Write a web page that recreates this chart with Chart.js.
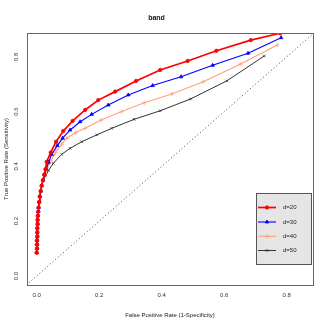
<!DOCTYPE html>
<html>
<head>
<meta charset="utf-8">
<script src="https://cdn.jsdelivr.net/npm/chart.js@4/dist/chart.umd.min.js"></script>
<style>
  html, body { margin: 0; padding: 0; background: #fff; }
  #wrap { width: 327px; height: 327px; }
</style>
</head>
<body>
<div id="wrap"><canvas id="rocChart" width="327" height="327"></canvas></div>
<script>
// ROC curves
const labels = ['d=20', 'd=30', 'd=40', 'd=50'];
const tickValues = [0, 0.2, 0.4, 0.6, 0.8];

const fpr20 = [0.000, 0.001, 0.001, 0.001, 0.002, 0.002, 0.002, 0.003, 0.003, 0.004, 0.005, 0.006, 0.008, 0.010, 0.013, 0.016, 0.020, 0.024, 0.028,
  0.032, 0.045, 0.062, 0.085, 0.115, 0.155, 0.197, 0.251, 0.318, 0.395, 0.483, 0.575, 0.685, 0.779];
const tpr20 = [0.085, 0.100, 0.115, 0.130, 0.145, 0.160, 0.175, 0.190, 0.205, 0.220, 0.235, 0.250, 0.270, 0.290, 0.310, 0.330, 0.350, 0.370, 0.390,
  0.417, 0.451, 0.490, 0.529, 0.566, 0.606, 0.642, 0.673, 0.712, 0.752, 0.785, 0.822, 0.861, 0.886];

const fpr30 = [0.000, 0.001, 0.001, 0.001, 0.002, 0.002, 0.002, 0.003, 0.003, 0.004, 0.005, 0.006, 0.008, 0.010, 0.013, 0.016, 0.020, 0.025, 0.031, 0.038,
  0.048, 0.066, 0.083, 0.107, 0.139, 0.176, 0.229, 0.293, 0.371, 0.462, 0.563, 0.676, 0.782];
const tpr30 = [0.085, 0.100, 0.115, 0.130, 0.145, 0.160, 0.175, 0.190, 0.205, 0.220, 0.235, 0.250, 0.270, 0.290, 0.310, 0.330, 0.350, 0.370, 0.390, 0.415,
  0.444, 0.476, 0.503, 0.533, 0.563, 0.590, 0.624, 0.661, 0.695, 0.727, 0.769, 0.813, 0.870];

const fpr40 = [0.000, 0.001, 0.001, 0.001, 0.002, 0.002, 0.002, 0.003, 0.003, 0.004, 0.005, 0.006, 0.008, 0.010, 0.013, 0.016, 0.020, 0.026, 0.034, 0.045, 0.060,
  0.080, 0.096, 0.125, 0.155, 0.206, 0.272, 0.344, 0.432, 0.533, 0.651, 0.770];
const tpr40 = [0.085, 0.100, 0.115, 0.130, 0.145, 0.160, 0.175, 0.190, 0.205, 0.220, 0.235, 0.250, 0.270, 0.290, 0.310, 0.330, 0.350, 0.370, 0.395, 0.420, 0.450,
  0.481, 0.503, 0.524, 0.539, 0.569, 0.600, 0.632, 0.664, 0.709, 0.773, 0.843];

const fpr50 = [0.000, 0.001, 0.001, 0.001, 0.002, 0.002, 0.002, 0.003, 0.003, 0.004, 0.005, 0.006, 0.008, 0.010, 0.013, 0.016, 0.021, 0.028, 0.038,
  0.053, 0.080, 0.107, 0.144, 0.192, 0.240, 0.312, 0.395, 0.492, 0.608, 0.728];
const tpr50 = [0.085, 0.100, 0.115, 0.130, 0.145, 0.160, 0.175, 0.190, 0.205, 0.220, 0.235, 0.250, 0.270, 0.290, 0.310, 0.330, 0.348, 0.365, 0.385,
  0.411, 0.444, 0.466, 0.490, 0.515, 0.539, 0.572, 0.603, 0.646, 0.712, 0.803];

const diagX = [-0.05, 1];
const diagY = [-0.05, 1];

function toPoints(xs, ys) {
  return xs.map((x, i) => ({ x: x, y: ys[i] }));
}

const series = [
  { label: labels[0], xs: fpr20, ys: tpr20, color: '#ff0000', width: 1.7, style: 'circle', radius: 1.7, fill: true },
  { label: labels[1], xs: fpr30, ys: tpr30, color: '#0000ff', width: 1.1, style: 'triangle', radius: 2, fill: true },
  { label: labels[2], xs: fpr40, ys: tpr40, color: '#ffa07a', width: 1.1, style: 'cross', radius: 2.2, fill: false },
  { label: labels[3], xs: fpr50, ys: tpr50, color: '#333333', width: 1, style: 'crossRot', radius: 1.8, fill: false }
];

const datasets = series.map(s => ({
  label: s.label,
  data: toPoints(s.xs, s.ys),
  borderColor: s.color,
  backgroundColor: s.fill ? s.color : 'transparent',
  borderWidth: s.width,
  pointStyle: s.style,
  pointRadius: s.radius,
  pointBorderWidth: 0.8,
  pointBorderColor: s.color,
  pointBackgroundColor: s.fill ? s.color : 'transparent',
  tension: 0
}));

// dotted chance line
datasets.push({
  label: 'chance',
  data: toPoints(diagX, diagY),
  borderColor: '#444',
  borderWidth: 1,
  borderDash: [1, 2.5],
  pointRadius: 0,
  tension: 0
});

const axisFont = { family: 'Liberation Sans, Arial, sans-serif', size: 6 };

// R-style box, rotated y tick labels and the legend
const rStyle = {
  id: 'rStyle',
  afterDraw(chart) {
    const ctx = chart.ctx;
    const a = chart.chartArea;
    ctx.save();
    ctx.strokeStyle = '#666';
    ctx.lineWidth = 1;
    ctx.strokeRect(a.left + 0.5, a.top + 0.5, a.right - a.left, a.bottom - a.top);

    // y tick labels, rotated like R
    const ys = chart.scales.y;
    ctx.fillStyle = '#333';
    ctx.font = '6px ' + axisFont.family;
    ctx.textAlign = 'center';
    ctx.textBaseline = 'middle';
    tickValues.forEach(v => {
      const py = ys.getPixelForValue(v);
      ctx.save();
      ctx.translate(16, py);
      ctx.rotate(-Math.PI / 2);
      ctx.fillText(v.toFixed(1), 0, 0);
      ctx.restore();
    });

    // legend box
    const lx = 256, ly = 193, lw = 55, lh = 71;
    ctx.fillStyle = '#e5e5e5';
    ctx.fillRect(lx, ly, lw, lh);
    ctx.strokeStyle = '#555';
    ctx.strokeRect(lx + 0.5, ly + 0.5, lw, lh);
    const rows = [207.5, 222, 236.3, 250.5];
    series.forEach((s, i) => {
      const y = rows[i];
      ctx.strokeStyle = s.color;
      ctx.lineWidth = s.width;
      ctx.beginPath();
      ctx.moveTo(258, y);
      ctx.lineTo(276, y);
      ctx.stroke();
      ctx.lineWidth = 0.8;
      ctx.fillStyle = s.color;
      Chart.helpers.drawPoint(ctx, {
        pointStyle: s.style,
        radius: s.radius,
        borderWidth: 0.8
      }, 267, y);
      ctx.fillStyle = '#222';
      ctx.textAlign = 'left';
      ctx.fillText(s.label, 283, y);
    });
    ctx.restore();
  }
};

const ctx = document.getElementById('rocChart').getContext('2d');
const rocChart = new Chart(ctx, {
  type: 'line',
  data: { datasets: datasets },
  options: {
    responsive: false,
    animation: false,
    layout: { padding: { top: 0, right: 14, bottom: 0, left: 0 } },
    plugins: {
      legend: { display: false },
      tooltip: { enabled: false },
      title: {
        display: true,
        text: 'band',
        color: '#111',
        font: { family: axisFont.family, size: 7, weight: 'bold' },
        padding: { top: 14, bottom: 10.6 }
      }
    },
    scales: {
      x: {
        type: 'linear',
        min: -0.031,
        max: 0.884,
        afterBuildTicks: scale => { scale.ticks = tickValues.map(v => ({ value: v })); },
        afterFit: scale => { scale.height = 42; },
        border: { display: false },
        grid: { drawOnChartArea: false, drawTicks: true, tickLength: 4, color: 'transparent' },
        ticks: {
          color: '#333',
          font: axisFont,
          padding: 3,
          maxRotation: 0,
          callback: v => v.toFixed(1)
        },
        title: {
          display: true,
          text: 'False Positive Rate (1-Specificity)',
          color: '#222',
          font: axisFont,
          padding: { top: 0, bottom: 8 }
        }
      },
      y: {
        type: 'linear',
        min: -0.033,
        max: 0.887,
        afterBuildTicks: scale => { scale.ticks = tickValues.map(v => ({ value: v })); },
        afterFit: scale => { scale.width = 27; },
        border: { display: false },
        grid: { drawOnChartArea: false, drawTicks: false, color: 'transparent' },
        ticks: { display: false },
        title: {
          display: true,
          text: 'True Positive Rate (Sensitivity)',
          color: '#222',
          font: axisFont,
          padding: { top: 3, bottom: 0 }
        }
      }
    }
  },
  plugins: [rStyle]
});
</script>
</body>
</html>
